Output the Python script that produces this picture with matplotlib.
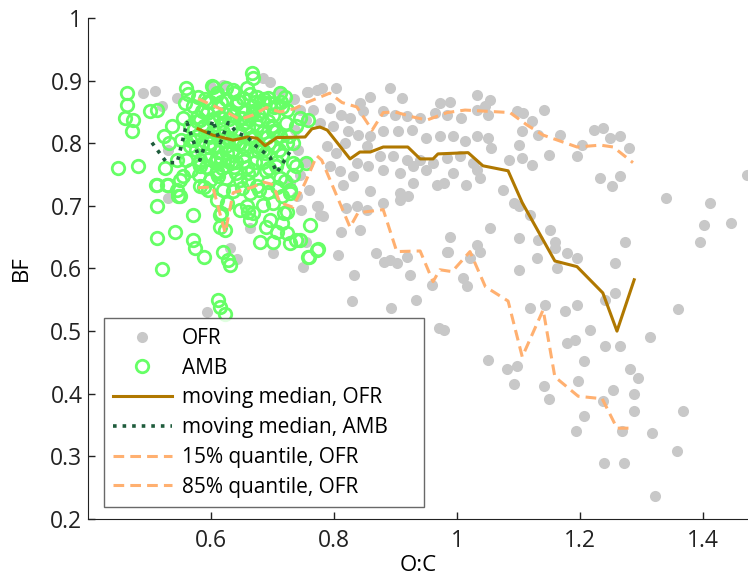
import numpy as np
import matplotlib
matplotlib.use('Agg')
import matplotlib.pyplot as plt

plt.rcParams['font.family'] = ['Open Sans', 'DejaVu Sans']

# OFR scatter (O:C, BF)
ofr_oc = [0.758, 0.780, 0.804, 0.891, 0.858, 0.910, 1.032, 0.972, 0.988, 0.744,
          0.766, 0.793, 0.812, 0.842, 0.847, 0.826, 0.880, 0.899, 0.918, 0.940,
          0.964, 0.983, 1.007, 1.032, 0.777, 0.799, 0.823, 0.839, 0.858, 0.880,
          0.904, 0.926, 0.950, 0.972, 0.994, 1.013, 1.032, 0.736, 0.755, 0.788,
          0.804, 0.818, 0.853, 0.875, 0.896, 0.918, 0.940, 0.961, 0.983, 1.004,
          1.026, 0.793, 0.810, 0.837, 0.856, 0.880, 0.907, 0.929, 0.950, 0.994,
          1.032, 0.815, 0.831, 0.858, 0.907, 0.929, 0.967, 0.978, 1.015, 0.772,
          0.820, 0.837, 0.853, 0.880, 0.907, 0.921, 0.777, 0.842, 0.812, 0.988,
          0.807, 0.869, 0.891, 0.918, 0.983, 1.032, 1.021,
          1.054, 1.046, 1.051, 1.097, 1.108, 1.141, 1.122, 1.105, 1.132, 1.168,
          1.222, 1.238, 1.249, 1.265, 1.279, 1.203, 1.051, 1.056, 1.100, 1.084,
          1.105, 1.122, 1.149, 1.195, 1.038, 1.075, 1.092, 1.100, 1.119, 1.233,
          1.252, 1.265, 1.054, 1.100, 1.132, 1.151, 1.159, 1.178, 1.130, 1.195,
          1.273, 1.038,
          1.159, 1.100, 1.162, 1.395, 1.257, 1.010, 1.016, 1.119, 1.143, 1.176,
          1.195, 1.257, 1.241, 1.360, 1.216, 1.178, 1.192, 1.241, 1.265, 1.313,
          1.051, 1.081, 1.097, 1.092, 1.141, 1.149, 1.197, 1.207, 1.281, 1.294,
          1.253, 1.288, 1.237, 1.287, 1.368, 1.206, 1.194, 1.268, 1.317, 1.358,
          1.239, 1.272, 1.322,
          1.340, 1.412, 1.401, 1.446, 1.471,
          0.749, 0.832, 0.881, 0.902, 0.924, 0.959, 0.986, 0.829, 0.892, 0.933,
          0.971, 0.979,
          0.530, 0.663, 0.700, 0.774, 0.782, 0.747, 0.755, 0.642, 0.631, 0.593,
          0.728, 0.490, 0.509, 0.545, 0.685, 0.696, 0.756, 0.772, 0.735, 0.742,
          0.755, 0.745, 0.760, 0.740, 0.600, 0.620, 0.520, 0.530, 0.712]
ofr_bf = [0.882, 0.888, 0.889, 0.889, 0.874, 0.873, 0.877, 0.864, 0.866, 0.853,
          0.853, 0.856, 0.845, 0.864, 0.851, 0.840, 0.851, 0.845, 0.843, 0.840,
          0.848, 0.845, 0.840, 0.853, 0.832, 0.827, 0.819, 0.813, 0.811, 0.819,
          0.819, 0.821, 0.808, 0.811, 0.811, 0.803, 0.811, 0.821, 0.837, 0.795,
          0.784, 0.800, 0.795, 0.779, 0.779, 0.773, 0.773, 0.768, 0.776, 0.779,
          0.768, 0.763, 0.755, 0.768, 0.763, 0.757, 0.752, 0.763, 0.757, 0.752,
          0.757, 0.733, 0.747, 0.723, 0.720, 0.736, 0.733, 0.736, 0.733, 0.699,
          0.696, 0.699, 0.694, 0.704, 0.710, 0.715, 0.686, 0.662, 0.659, 0.651,
          0.622, 0.624, 0.614, 0.619, 0.627, 0.638, 0.617,
          0.869, 0.859, 0.845, 0.851, 0.848, 0.853, 0.835, 0.819, 0.813, 0.813,
          0.821, 0.824, 0.808, 0.811, 0.792, 0.797, 0.808, 0.792, 0.797, 0.773,
          0.776, 0.765, 0.781, 0.779, 0.744, 0.726, 0.704, 0.699, 0.686, 0.744,
          0.731, 0.747, 0.664, 0.648, 0.646, 0.662, 0.643, 0.624, 0.616, 0.616,
          0.643, 0.626,
          0.633, 0.598, 0.601, 0.643, 0.609, 0.585, 0.572, 0.537, 0.542, 0.532,
          0.541, 0.561, 0.550, 0.535, 0.502, 0.481, 0.486, 0.476, 0.476, 0.490,
          0.454, 0.439, 0.445, 0.415, 0.412, 0.392, 0.421, 0.453, 0.439, 0.425,
          0.406, 0.399, 0.388, 0.372, 0.373, 0.365, 0.340, 0.340, 0.337, 0.308,
          0.289, 0.290, 0.236,
          0.713, 0.705, 0.670, 0.672, 0.749,
          0.602, 0.590, 0.610, 0.609, 0.589, 0.574, 0.626, 0.548, 0.537, 0.549,
          0.505, 0.501,
          0.712, 0.664, 0.625, 0.699, 0.684, 0.694, 0.643, 0.615, 0.632, 0.531,
          0.736, 0.880, 0.883, 0.873, 0.904, 0.898, 0.882, 0.885, 0.870, 0.790,
          0.770, 0.750, 0.725, 0.715, 0.890, 0.893, 0.860, 0.790, 0.884]

# AMB scatter
amb_oc = [0.463, 0.463, 0.460, 0.474, 0.471, 0.501, 0.512, 0.523, 0.531, 0.449,
          0.482, 0.525, 0.512, 0.528, 0.544, 0.550, 0.512, 0.571, 0.541, 0.512,
          0.571, 0.574, 0.588, 0.520, 0.615, 0.617, 0.626, 0.620, 0.628, 0.631,
          0.612, 0.615, 0.623, 0.666, 0.669, 0.560, 0.604, 0.712, 0.720, 0.558,
          0.555, 0.579, 0.609, 0.636, 0.658, 0.674, 0.696, 0.723, 0.745, 0.758,
          0.536, 0.552, 0.566, 0.582, 0.593, 0.647, 0.674, 0.647, 0.674, 0.701,
          0.739, 0.734, 0.734, 0.647, 0.674, 0.658, 0.669, 0.701, 0.696, 0.718,
          0.690, 0.680, 0.701, 0.723, 0.728, 0.745, 0.761, 0.772, 0.758, 0.728,
          0.715, 0.739, 0.755, 0.582, 0.609, 0.560, 0.598, 0.626, 0.555, 0.582,
          0.620, 0.544, 0.550,
          0.623, 0.660, 0.663, 0.707, 0.739, 0.774, 0.759, 0.715, 0.723, 0.685,
          0.647, 0.728, 0.511, 0.530, 0.547, 0.595, 0.614,
          0.570, 0.585, 0.598, 0.612, 0.625, 0.640, 0.652, 0.668, 0.683, 0.700,
          0.572, 0.588, 0.603, 0.618, 0.632, 0.645, 0.660, 0.685, 0.712, 0.722,
          0.575, 0.590, 0.605, 0.620, 0.635, 0.652, 0.663, 0.688, 0.700, 0.715,
          0.568, 0.592, 0.606, 0.618, 0.632, 0.640, 0.658, 0.672, 0.690, 0.706,
          0.598, 0.625, 0.660, 0.692, 0.712, 0.578, 0.615, 0.692, 0.655, 0.628,
          0.563, 0.578, 0.593, 0.608, 0.622, 0.637, 0.650, 0.664, 0.678, 0.692,
          0.566, 0.581, 0.596, 0.611, 0.626, 0.641, 0.655, 0.670, 0.684, 0.706,
          0.580, 0.596, 0.612, 0.628, 0.644, 0.660, 0.676, 0.694, 0.708, 0.724,
          0.588, 0.604, 0.620, 0.636, 0.652, 0.668, 0.684, 0.700, 0.716, 0.602,
          0.586, 0.601, 0.616, 0.631, 0.646, 0.661, 0.676, 0.691, 0.573, 0.708,
          0.594, 0.609, 0.624, 0.639, 0.654, 0.669, 0.684, 0.699, 0.714, 0.727,
          0.577, 0.590, 0.604, 0.617, 0.630, 0.644, 0.657, 0.671, 0.686, 0.703,
          0.582, 0.596, 0.610, 0.624, 0.638, 0.652, 0.666, 0.680, 0.695, 0.710,
          0.636, 0.650, 0.664, 0.678, 0.693, 0.707, 0.720, 0.733, 0.610, 0.566]
amb_bf = [0.880, 0.861, 0.840, 0.837, 0.819, 0.851, 0.853, 0.811, 0.800, 0.760,
          0.763, 0.760, 0.733, 0.733, 0.726, 0.715, 0.699, 0.686, 0.659, 0.648,
          0.646, 0.632, 0.619, 0.599, 0.667, 0.688, 0.704, 0.627, 0.614, 0.606,
          0.550, 0.539, 0.528, 0.912, 0.904, 0.888, 0.890, 0.880, 0.874, 0.864,
          0.840, 0.874, 0.880, 0.885, 0.888, 0.874, 0.864, 0.853, 0.840, 0.837,
          0.827, 0.805, 0.795, 0.837, 0.811, 0.840, 0.827, 0.800, 0.795, 0.819,
          0.827, 0.800, 0.768, 0.741, 0.731, 0.699, 0.688, 0.704, 0.678, 0.688,
          0.667, 0.643, 0.643, 0.656, 0.640, 0.646, 0.670, 0.630, 0.619, 0.726,
          0.715, 0.763, 0.768, 0.773, 0.752, 0.773, 0.800, 0.784, 0.747, 0.731,
          0.726, 0.773, 0.741,
          0.662, 0.691, 0.678, 0.659, 0.646, 0.631, 0.618, 0.672, 0.691, 0.702,
          0.694, 0.720, 0.734, 0.734, 0.715, 0.726, 0.686,
          0.860, 0.852, 0.866, 0.858, 0.870, 0.862, 0.872, 0.860, 0.852, 0.845,
          0.822, 0.828, 0.820, 0.832, 0.824, 0.816, 0.826, 0.818, 0.812, 0.832,
          0.790, 0.782, 0.795, 0.805, 0.790, 0.780, 0.808, 0.784, 0.796, 0.782,
          0.758, 0.762, 0.770, 0.760, 0.768, 0.752, 0.762, 0.770, 0.756, 0.764,
          0.742, 0.745, 0.740, 0.738, 0.745, 0.812, 0.842, 0.836, 0.850, 0.806,
          0.878, 0.842, 0.848, 0.876, 0.846, 0.880, 0.840, 0.878, 0.838, 0.872,
          0.805, 0.768, 0.810, 0.786, 0.810, 0.770, 0.792, 0.812, 0.770, 0.820,
          0.750, 0.775, 0.748, 0.772, 0.798, 0.752, 0.788, 0.800, 0.770, 0.800,
          0.730, 0.838, 0.818, 0.846, 0.830, 0.848, 0.866, 0.826, 0.858, 0.892,
          0.798, 0.812, 0.776, 0.852, 0.800, 0.838, 0.846, 0.810, 0.805, 0.860,
          0.866, 0.776, 0.888, 0.804, 0.772, 0.852, 0.790, 0.828, 0.866, 0.812,
          0.836, 0.870, 0.836, 0.866, 0.838, 0.868, 0.834, 0.866, 0.870, 0.858,
          0.764, 0.794, 0.756, 0.796, 0.762, 0.796, 0.758, 0.792, 0.760, 0.790,
          0.724, 0.728, 0.720, 0.726, 0.722, 0.730, 0.740, 0.750, 0.710, 0.828]

# moving median, OFR
med_ofr_oc = [0.579, 0.603, 0.636, 0.659, 0.675, 0.688, 0.707, 0.753, 0.764, 0.777,
              0.789, 0.826, 0.842, 0.859, 0.880, 0.920, 0.940, 0.961, 0.969, 1.018,
              1.042, 1.083, 1.106, 1.159, 1.195, 1.237, 1.260, 1.288]
med_ofr_bf = [0.823, 0.813, 0.805, 0.810, 0.808, 0.796, 0.809, 0.810, 0.823, 0.826,
              0.821, 0.775, 0.786, 0.786, 0.794, 0.794, 0.775, 0.775, 0.783, 0.785,
              0.764, 0.756, 0.705, 0.612, 0.603, 0.561, 0.500, 0.582]

# moving median, AMB
med_amb_oc = [0.504, 0.528, 0.545, 0.561, 0.582, 0.603, 0.615, 0.628, 0.642, 0.659,
              0.675, 0.696, 0.707, 0.728]
med_amb_bf = [0.801, 0.769, 0.769, 0.833, 0.773, 0.837, 0.801, 0.833, 0.817, 0.810,
              0.794, 0.778, 0.753, 0.786]

# 15% quantile, OFR
q15_oc = [0.579, 0.603, 0.623, 0.636, 0.668, 0.685, 0.701, 0.712, 0.733, 0.753,
          0.772, 0.780, 0.826, 0.839, 0.880, 0.902, 0.940, 0.961, 0.972, 0.992,
          1.021, 1.046, 1.083, 1.106, 1.140, 1.159, 1.197, 1.236, 1.260, 1.286]
q15_bf = [0.729, 0.730, 0.657, 0.721, 0.730, 0.738, 0.734, 0.705, 0.698, 0.737,
          0.780, 0.773, 0.666, 0.689, 0.694, 0.627, 0.628, 0.579, 0.598, 0.595,
          0.627, 0.571, 0.548, 0.459, 0.534, 0.427, 0.396, 0.392, 0.345, 0.345]

# 85% quantile, OFR
q85_oc = [0.579, 0.615, 0.647, 0.668, 0.690, 0.712, 0.735, 0.758, 0.793, 0.813,
          0.837, 0.862, 0.880, 0.899, 0.928, 0.951, 0.984, 1.013, 1.086, 1.114,
          1.140, 1.195, 1.233, 1.254, 1.286]
q85_bf = [0.871, 0.855, 0.838, 0.845, 0.857, 0.850, 0.855, 0.866, 0.880, 0.865,
          0.858, 0.821, 0.849, 0.850, 0.842, 0.837, 0.849, 0.853, 0.849, 0.829,
          0.813, 0.794, 0.797, 0.794, 0.769]

fig = plt.figure(figsize=(7.48, 5.75), dpi=100)
ax = fig.add_axes([0.1176, 0.0974, 0.8824, 0.8713])

ax.plot(ofr_oc, ofr_bf, 'o', color='#c8c8c8', markersize=8, markeredgewidth=0,
        label='OFR', zorder=1)
ax.plot(amb_oc, amb_bf, 'o', markerfacecolor='none', markeredgecolor='#66ff66',
        markersize=9.0, markeredgewidth=2.0, label='AMB', zorder=2)
ax.plot(med_ofr_oc, med_ofr_bf, '-', color='#b07800', lw=2.2,
        label='moving median, OFR', zorder=4)
ax.plot(med_amb_oc, med_amb_bf, ':', color='#1e5c3c', lw=2.6,
        label='moving median, AMB', zorder=5)
ax.plot(q15_oc, q15_bf, '--', color='#ffb070', lw=2.2, dashes=(3.5, 2),
        label='15% quantile, OFR', zorder=3)
ax.plot(q85_oc, q85_bf, '--', color='#ffb070', lw=2.2, dashes=(3.5, 2),
        label='85% quantile, OFR', zorder=3)

ax.set_xlim(0.4, 1.473)
ax.set_ylim(0.2, 1.0)
ax.set_xticks([0.6, 0.8, 1.0, 1.2, 1.4])
ax.set_xticklabels(['0.6', '0.8', '1', '1.2', '1.4'])
ax.set_yticks([0.2, 0.3, 0.4, 0.5, 0.6, 0.7, 0.8, 0.9, 1.0])
ax.set_yticklabels(['0.2', '0.3', '0.4', '0.5', '0.6', '0.7', '0.8', '0.9', '1'])
ax.tick_params(direction='in', length=5, width=1, labelsize=16.5, colors='#222222')
ax.tick_params(axis='x', pad=7)
ax.tick_params(axis='y', pad=4)
ax.spines['top'].set_visible(False)
ax.spines['right'].set_visible(False)
ax.spines['left'].set_color('#222222')
ax.spines['bottom'].set_color('#222222')
ax.set_xlabel('O:C', fontsize=16, labelpad=2)
ax.set_ylabel('BF', fontsize=16, labelpad=13)

leg = ax.legend(loc='lower left', bbox_to_anchor=(0.024, 0.024, 0.485, 0.37),
                mode='expand', borderaxespad=0,
                fontsize=15, handlelength=2.8, labelspacing=0.42, frameon=True,
                fancybox=False, borderpad=0.45, handletextpad=0.5)
leg.get_frame().set_edgecolor('#444444')
leg.get_frame().set_linewidth(1.0)

fig.savefig('out.png', dpi=100)
